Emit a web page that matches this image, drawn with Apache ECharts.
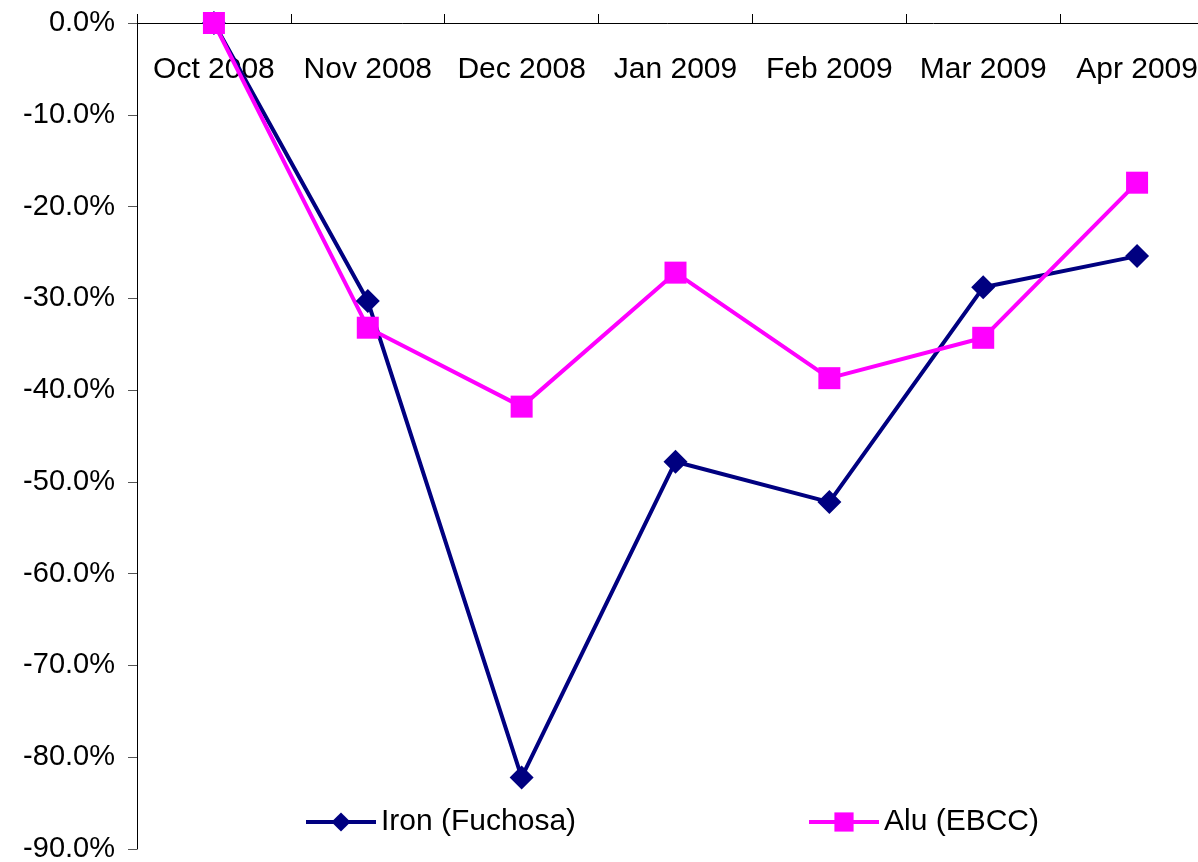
<!DOCTYPE html>
<html>
<head>
<meta charset="utf-8">
<script src="https://cdn.jsdelivr.net/npm/echarts@6/dist/echarts.min.js"></script>
<style>
  html, body { margin: 0; padding: 0; background: #fff; }
  #chart { width: 1198px; height: 862px; }
</style>
</head>
<body>
<div id="chart"></div>
<script>
// Monthly change versus October 2008, in percent
const months = ['Oct 2008', 'Nov 2008', 'Dec 2008', 'Jan 2009', 'Feb 2009', 'Mar 2009', 'Apr 2009'];
const ironName = 'Iron (Fuchosa)';
const aluName = 'Alu (EBCC)';
const ironValues = [0, -30.3, -82.2, -47.8, -52.2, -28.8, -25.4];
const aluValues = [0, -33.2, -41.8, -27.2, -38.7, -34.3, -17.4];
const yMin = -90, yMax = 0, yStep = 10;

const FONT = 'Liberation Sans, Arial, sans-serif';
const FS = 29;

const chart = echarts.init(document.getElementById('chart'), null, { renderer: 'canvas' });
chart.setOption({
  animation: false,
  backgroundColor: '#ffffff',
  // plot area runs past the right edge of the canvas
  grid: { left: 137, top: 23, width: 1077, bottom: 13, containLabel: false, outerBoundsMode: 'none' },
  xAxis: {
    type: 'category',
    data: months,
    position: 'top',
    boundaryGap: true,
    axisLine: { show: true, lineStyle: { color: '#000', width: 1 } },
    axisTick: { show: true, inside: false, length: 9, lineStyle: { color: '#000' } },
    axisLabel: { inside: true, margin: 32, color: '#000', fontFamily: FONT, fontSize: 30, interval: 0, verticalAlign: 'top' },
    splitLine: { show: false }
  },
  yAxis: {
    type: 'value',
    min: yMin, max: yMax, interval: yStep,
    axisLine: { show: true, lineStyle: { color: '#000', width: 1 } },
    axisTick: { show: true, inside: false, length: 9, lineStyle: { color: '#555' } },
    axisLabel: {
      margin: 22, color: '#000', fontFamily: FONT, fontSize: FS,
      formatter: v => v.toFixed(1) + '%'
    },
    splitLine: { show: false }
  },
  legend: [
    {
      data: [ironName], left: 299, top: 802, itemWidth: 70, itemHeight: 24, itemGap: 0,
      lineStyle: { width: 4 },
      textStyle: { fontFamily: FONT, fontSize: 30, color: '#000' }
    },
    {
      data: [aluName], left: 802, top: 802, itemWidth: 70, itemHeight: 24, itemGap: 0,
      lineStyle: { width: 4 },
      textStyle: { fontFamily: FONT, fontSize: 30, color: '#000' }
    }
  ],
  series: [
    {
      name: ironName, type: 'line', data: ironValues, clip: false,
      symbol: 'diamond', symbolSize: 24,
      lineStyle: { color: '#000080', width: 4 },
      itemStyle: { color: '#000080' }
    },
    {
      name: aluName, type: 'line', data: aluValues, clip: false,
      symbol: 'rect', symbolSize: 22,
      lineStyle: { color: '#ff00ff', width: 4 },
      itemStyle: { color: '#ff00ff' }
    }
  ]
});
</script>
</body>
</html>
